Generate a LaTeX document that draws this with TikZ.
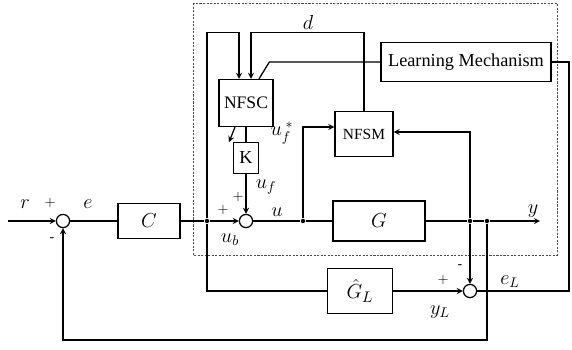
\documentclass[tikz,border=0pt]{standalone}
\usepackage{amsmath}
\usepackage{fontspec}
\setmainfont{Liberation Serif}
\usetikzlibrary{arrows, calc}

\begin{document}
\begin{tikzpicture}[
        x=0.025cm, y=-0.025cm,
        thick/.style={line width=0.9pt},
        block/.style={rectangle, draw=black, thick, inner sep=0pt, text centered, font=\fontsize{12.5}{14}\selectfont},
        sumnode/.style={circle, draw=black, thick, minimum size=0.33cm, inner sep=0pt},
        dot/.style={circle, fill=black, minimum size=3.2pt, inner sep=0pt},
        lbl/.style={inner sep=0pt, font=\fontsize{14}{16}\selectfont},
        sgn/.style={inner sep=0pt, font=\fontsize{10}{12}\selectfont}
    ]
        \useasboundingbox (0,0) rectangle (572,349);

        % Frame
        \draw[thin, black!70, dash pattern=on 1.5pt off 1pt] (193,3) rectangle (557,255);

        % Nodes
        \node (sum1) at (63,221) [sumnode] {};
        \node (ctrl) at (149,221) [block, minimum width=1.55cm, minimum height=0.875cm, font=\fontsize{15}{17}\selectfont] {$C$};
        \node (jb) at (207,221) [dot] {};
        \node (sum) at (246,221) [sumnode] {};
        \node (ju) at (303,221) [dot] {};
        \node (plant) at (379,221) [block, minimum width=2.3cm, minimum height=1cm, font=\fontsize{15}{17}\selectfont] {$G$};
        \node (jy1) at (470,221) [dot] {};
        \node (jy2) at (487,221) [dot] {};
        \node (model) at (360,291) [block, minimum width=1.625cm, minimum height=1.125cm, font=\fontsize{15}{17}\selectfont] {$\hat{G}_L$};
        \node (sum2) at (470,291) [sumnode] {};
        \node (nfsc) at (246,103) [block, minimum width=1.35cm, minimum height=1.175cm] {NFSC};
        \node (kgain) at (246,158) [block, minimum width=0.625cm, minimum height=0.775cm, font=\fontsize{13}{15}\selectfont] {K};
        \node (nfsm) at (364,134) [block, minimum width=1.45cm, minimum height=1.125cm, font=\fontsize{11}{13}\selectfont] {NFSM};
        \node (learn) at (466,62) [block, minimum width=4.25cm, minimum height=0.975cm, font=\fontsize{13}{15}\selectfont] {Learning Mechanism};
        \coordinate (rin) at (8,221);
        \coordinate (yout) at (540,221);

        % Arrows
        \draw[->, thick, >=stealth] (rin) -- (sum1);
        \draw[thick] (sum1) -- (ctrl);
        \draw[thick] (ctrl) -- (jb);
        \draw[->, thick, >=stealth] (jb) -- (sum);
        \draw[thick] (sum) -- (ju) -- (plant);
        \draw[thick] (plant) -- (jy1) -- (jy2);
        \draw[->, thick, >=stealth] (jy2) -- (yout);
        \draw[thick] (nfsc) -- (kgain);
        \draw[->, thick, >=stealth] (kgain) -- (sum);
        \draw[->, thick, >=stealth] ($(nfsc.south)+(-11,0)$) -- ++(-6,15);

        \draw[->, thick, >=stealth] (jb) |- ($(nfsc.north)+(-7,-46)$) -- ($(nfsc.north)+(-7,0)$);
        \draw[->, thick, >=stealth] (nfsm.north) |- ($(nfsc.north)+(5,-46)$) -- ($(nfsc.north)+(5,0)$);
        \draw[thick] (learn.west) -- ++(-111,0) -- ($(nfsc.north)+(13,0)$);

        \draw[->, thick, >=stealth] (ju) |- ($(nfsm.west)+(0,-7)$);
        \draw[->, thick, >=stealth] (jy1) |- ($(nfsm.east)+(0,-2)$);
        \draw[->, thick, >=stealth] (jy1) -- (sum2);
        \draw[thick] (jb) |- (model);
        \draw[->, thick, >=stealth] (model) -- (sum2);
        \draw[thick] (sum2) -- ++(99,0) |- (learn);
        \draw[->, thick, >=stealth] (jy2) -- ++(0,119) -| (sum1);

        % Labels
        \node (rlab) at (25,204) [lbl] {$r$};
        \node (p1) at (50,203) [sgn] {$+$};
        \node (m1) at (52,240) [sgn] {-};
        \node (elab) at (88,204) [lbl] {$e$};
        \node (p2) at (223,210) [sgn] {$+$};
        \node (ublab) at (230,240) [lbl] {$u_b$};
        \node (p3) at (238,197) [sgn] {$+$};
        \node (uflab) at (266,187) [lbl] {$u_f$};
        \node (ufslab) at (282,133) [lbl] {$u_f^{\;*}$};
        \node (ulab) at (277,212) [lbl] {$u$};
        \node (dlab) at (308,22) [lbl] {$d$};
        \node (ylab) at (533,211) [lbl] {$y$};
        \node (m2) at (460,267) [sgn] {-};
        \node (p4) at (443,280) [sgn] {$+$};
        \node (yllab) at (440,312) [lbl] {$y_L$};
        \node (ellab) at (510,282) [lbl] {$e_L$};
\end{tikzpicture}
\end{document}
